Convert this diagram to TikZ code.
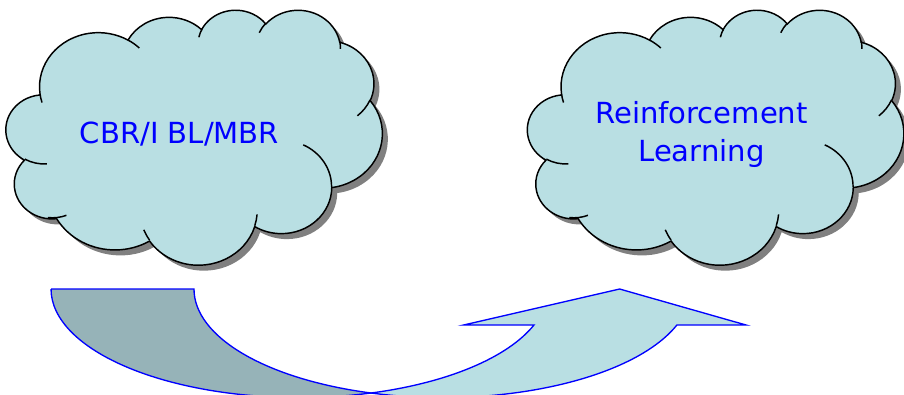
\documentclass[tikz,border=0pt]{standalone}
\usepackage{fontspec}
\setmainfont{DejaVu Sans}
\usetikzlibrary{positioning}
\definecolor{cloudfill}{RGB}{185,223,227}
\definecolor{cloudshade}{RGB}{128,128,128}
\definecolor{arrowback}{RGB}{150,179,184}
\definecolor{labelblue}{RGB}{0,0,255}

\newcommand\ooarc[4]{%
  arc[x radius=#1, y radius=#2,
      start angle={atan2(#1*sin(#3),#2*cos(#3))},
      delta angle={mod(atan2(#1*sin(#3+#4),#2*cos(#3+#4))-atan2(#1*sin(#3),#2*cos(#3))+720,360)}]}

\newcommand\cloudoutline{%
  (3.900,14.370)
  \ooarc{6.753}{9.190}{-190.4875}{123.7805}
  \ooarc{5.333}{7.267}{-144.1024}{89.9452}
  \ooarc{4.365}{5.945}{-145.8079}{99.7230}
  \ooarc{4.857}{6.595}{-130.9861}{117.2417}
  \ooarc{5.333}{7.273}{-78.7089}{109.0269}
  \ooarc{6.775}{9.220}{-46.2673}{130.2690}
  \ooarc{5.785}{7.867}{0.6250}{114.0333}
  \ooarc{6.752}{9.215}{22.4516}{115.1726}
  \ooarc{7.720}{10.543}{66.2426}{75.7110}
  \ooarc{4.360}{5.918}{-274.9421}{146.7356}
  \ooarc{4.345}{5.945}{-246.8285}{152.5189}
  -- cycle}

\newcommand\cloudcreases{%
  (4.693,26.177) \ooarc{4.345}{5.945}{86.7420}{26.4295}
  (6.928,34.899) \ooarc{4.360}{5.918}{73.6105}{21.5080}
  (16.478,39.090) \ooarc{6.752}{9.215}{137.6242}{14.0811}
  (28.827,34.751) \ooarc{6.752}{9.215}{6.4533}{15.9984}
  (34.129,22.954) \ooarc{5.785}{7.867}{-70.2924}{70.9174}
  (41.798,15.354) \ooarc{5.333}{7.273}{30.3180}{27.7515}
  (38.324,5.426) \ooarc{4.857}{6.595}{-13.7443}{14.8589}
  (29.078,3.952) \ooarc{4.857}{6.595}{-149.1815}{18.1954}
  (22.141,4.720) \ooarc{4.365}{5.945}{-163.4943}{17.6864}
  (14.000,5.192) \ooarc{6.753}{9.190}{-66.7070}{12.3194}
  (4.127,15.789) \ooarc{6.753}{9.190}{157.6544}{11.8582}}

\begin{document}
\begin{tikzpicture}[x=0.75pt, y=-0.75pt,
    cloudframe/.style={shift={(#1,9.4)}, x=6.53pt, y=-4.425pt},
    cloudshadow/.style={fill=cloudshade, xshift=4.1pt, yshift=-4.1pt},
    cloudbody/.style={draw=black, line width=1.1pt, fill=cloudfill},
    cloudcrease/.style={draw=black, line width=1.1pt},
    bandedge/.style={draw=labelblue, line width=1pt, line join=miter},
    cloudtext/.style={text=labelblue, inner sep=0pt, anchor=base, align=center,
                      font=\fontsize{21.8}{28.5}\selectfont}]
  \useasboundingbox (0,0) rectangle (904,394);
  \clip (0,0) rectangle (904,394);

  \foreach \cx in {6.1, 527.6} {
    \begin{scope}[cloudframe=\cx]
      \fill[cloudshadow] \cloudoutline;
      \path[cloudbody] \cloudoutline;
      \path[cloudcrease] \cloudcreases;
    \end{scope}
  }

  \node[cloudtext] (cbr) at (179.5,143) {CBR/I BL/MBR};
  \node[cloudtext] (rl) at (701.5,161.7) {Reinforcement\\Learning};

  \coordinate (tip) at (371,393);
  \coordinate (backleft) at (51,289);
  \coordinate (backright) at (194,289);
  \coordinate (wingleft) at (463.6,325);
  \coordinate (apex) at (619.6,289);
  \coordinate (wingright) at (746,325);
  \coordinate (notchright) at (676.9,325);

  \path[bandedge, fill=arrowback] (backleft) -- (backright)
    arc[start angle=180, end angle=106.72, x radius=248.5, y radius=108.6]
    arc[start angle=73.28, end angle=180, x radius=248.5, y radius=108.6] -- cycle;
  \path[bandedge, fill=cloudfill] (tip)
    arc[start angle=73.28, end angle=19.36, x radius=248.5, y radius=108.6]
    -- (wingleft) -- (apex) -- (wingright) -- (notchright)
    arc[start angle=19.36, end angle=106.72, x radius=248.5, y radius=108.6] -- cycle;
\end{tikzpicture}
\end{document}
